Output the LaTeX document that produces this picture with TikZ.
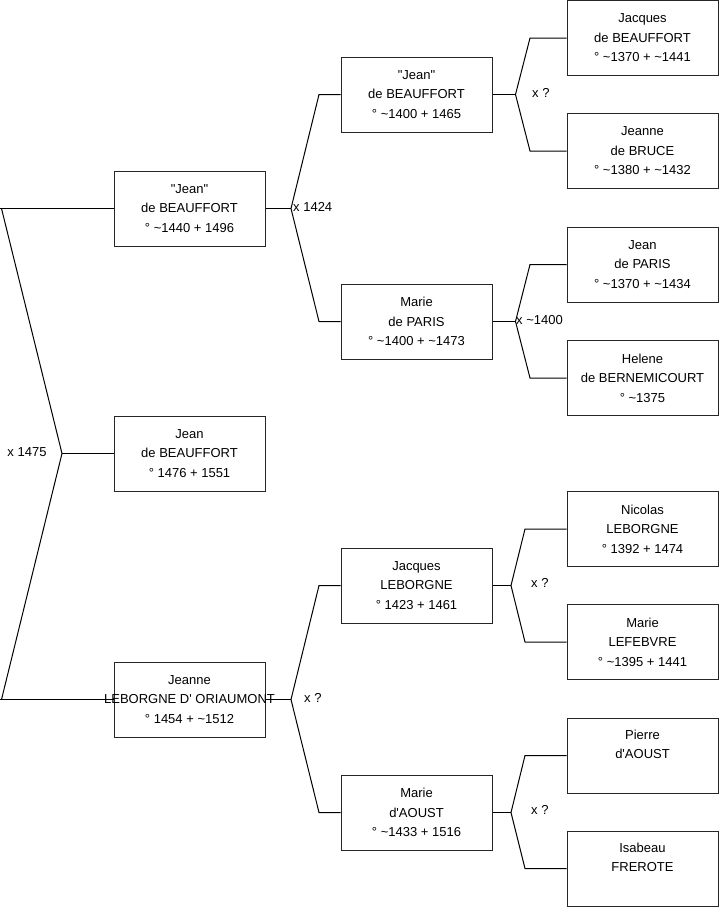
\documentclass[tikz,border=0pt]{standalone}
\usepackage{fontspec}
\setmainfont{Liberation Sans}
\newcommand\tl{\textasciitilde}
\newcommand\ap{\textquotesingle}
\newcommand\qq{\textquotedbl}
\begin{document}
\begin{tikzpicture}[x=1pt,y=-1pt,
  person/.style={draw=black!85,line width=1pt,rectangle,minimum width=151pt,minimum height=75pt,
    inner sep=0pt,align=center,font=\fontsize{13}{19.5}\selectfont},
  mlabel/.style={inner sep=0pt,font=\fontsize{13}{15}\selectfont},
  link/.style={draw=black,line width=1pt}]
\useasboundingbox (0,0) rectangle (719,908);
% level 1
\node[person] (p1) at (189.5,208.5) {\qq Jean\qq\\de BEAUFFORT\\° \tl1440 + 1496};
\node[person] (p2) at (189.5,453.5) {Jean\\de BEAUFFORT\\° 1476 + 1551};
% root fork
\coordinate (r0) at (0,208.5);
\coordinate (ra) at (1.5,208.5);
\coordinate (rf) at (62,453.5);
\coordinate (rb) at (1.5,699.5);
\coordinate (r1) at (0,699.5);
\node[person] (p3) at (189.5,699.5) {};
\draw[link] (r1) -- (p3.west);
\node[person,draw=none,fill=none] (p3t) at (189.5,699.5) {Jeanne\\\makebox[0pt][c]{LEBORGNE D\ap{} ORIAUMONT}\\° 1454 + \tl1512};
% level 2
\node[person] (a1) at (416.5,94.5) {\qq Jean\qq\\de BEAUFFORT\\° \tl1400 + 1465};
\node[person] (a2) at (416.5,321.5) {Marie\\de PARIS\\° \tl1400 + \tl1473};
\node[person] (a3) at (416.5,585.5) {Jacques\\LEBORGNE\\° 1423 + 1461};
\node[person] (a4) at (416.5,812.5) {Marie\\d\ap AOUST\\° \tl1433 + 1516};
% level 3
\node[person] (b1) at (642.5,38) {Jacques\\de BEAUFFORT\\° \tl1370 + \tl1441};
\node[person] (b2) at (642.5,151) {Jeanne\\de BRUCE\\° \tl1380 + \tl1432};
\node[person] (b3) at (642.5,264.5) {Jean\\de PARIS\\° \tl1370 + \tl1434};
\node[person] (b4) at (642.5,378) {Helene\\de BERNEMICOURT\\° \tl1375};
\node[person] (b5) at (642.5,529) {Nicolas\\LEBORGNE\\° 1392 + 1474};
\node[person] (b6) at (642.5,642) {Marie\\LEFEBVRE\\° \tl1395 + 1441};
\node[person] (b7) at (642.5,755.5) {Pierre\\d\ap AOUST\\\phantom{Ag}};
\node[person] (b8) at (642.5,868.5) {Isabeau\\FREROTE\\\phantom{Ag}};
% root connectors
\draw[link] (p1.west) -- (r0);
\draw[link] (ra) -- (rf) -- (rb);
\draw[link] (rf) -- (p2.west);
\node[mlabel,anchor=center] (l0) at (27,452) {x 1475};
% p1 fork
\coordinate (f1) at (291,208.5);
\coordinate (f1a) at (319,94.5);
\coordinate (f1b) at (319,321.5);
\draw[link] (p1.east) -- (f1);
\draw[link] (a1.west) -- (f1a) -- (f1) -- (f1b) -- (a2.west);
\node[mlabel,anchor=west] (l1) at (293,207) {x 1424};
% p3 fork
\coordinate (f3) at (291,699.5);
\coordinate (f3a) at (319,585.5);
\coordinate (f3b) at (319,812.5);
\draw[link] (p3.east) -- (f3);
\draw[link] (a3.west) -- (f3a) -- (f3) -- (f3b) -- (a4.west);
\node[mlabel,anchor=west] (l3) at (304,698) {x ?};
% a1 fork
\coordinate (g1) at (515.5,94.5);
\coordinate (g1a) at (530,38);
\coordinate (g1b) at (530,151);
\draw[link] (a1.east) -- (g1);
\draw[link] (b1.west) -- (g1a) -- (g1) -- (g1b) -- (b2.west);
\node[mlabel,anchor=west] (m1) at (532,93) {x ?};
% a2 fork
\coordinate (g2) at (515.5,321.5);
\coordinate (g2a) at (530,264.5);
\coordinate (g2b) at (530,378);
\draw[link] (a2.east) -- (g2);
\draw[link] (b3.west) -- (g2a) -- (g2) -- (g2b) -- (b4.west);
\node[mlabel,anchor=west] (m2) at (516,320) {x \tl1400};
% a3 fork
\coordinate (g3) at (511,585.5);
\coordinate (g3a) at (525,529);
\coordinate (g3b) at (525,642);
\draw[link] (a3.east) -- (g3);
\draw[link] (b5.west) -- (g3a) -- (g3) -- (g3b) -- (b6.west);
\node[mlabel,anchor=west] (m3) at (531,583) {x ?};
% a4 fork
\coordinate (g4) at (511,812.5);
\coordinate (g4a) at (525,755.5);
\coordinate (g4b) at (525,868.5);
\draw[link] (a4.east) -- (g4);
\draw[link] (b7.west) -- (g4a) -- (g4) -- (g4b) -- (b8.west);
\node[mlabel,anchor=west] (m4) at (531,810) {x ?};
\end{tikzpicture}
\end{document}
